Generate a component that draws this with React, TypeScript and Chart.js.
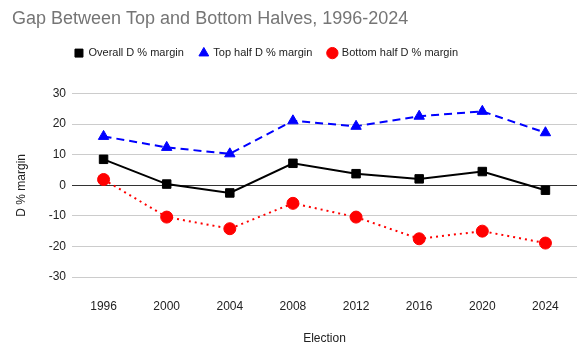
import React, { useEffect, useRef } from "react";
import { Chart, registerables } from "chart.js";

Chart.register(...registerables);

const years = ["1996", "2000", "2004", "2008", "2012", "2016", "2020", "2024"];
const overall = [8.5, 0.4, -2.5, 7.2, 3.8, 2.1, 4.5, -1.6];
const topHalf = [16.0, 12.4, 10.3, 21.1, 19.3, 22.6, 24.2, 17.2];
const bottomHalf = [1.9, -10.4, -14.2, -5.9, -10.4, -17.5, -15.0, -18.9];

const FONT = "'Liberation Sans', Arial, sans-serif";

const legendSpacer = {
  id: "legendSpacer",
  beforeInit(chart: any) {
    const lg = chart.legend;
    if (!lg) return;
    const orig = lg.fit;
    lg.fit = function () {
      orig.call(this);
      this.height += 25;
    };
  },
  afterLayout(chart: any) {
    const lg = chart.legend;
    if (lg) {
      lg.left -= 27;
      lg.right -= 27;
    }
    const tb = chart.titleBlock;
    if (tb) {
      tb.left += 2;
      tb.right += 2;
    }
  },
};

export default function App() {
  const ref = useRef<HTMLCanvasElement | null>(null);
  useEffect(() => {
    document.body.style.margin = "0";
    const ctx = ref.current!;
    const chart = new Chart(ctx, {
      type: "line",
      data: {
        labels: years,
        datasets: [
          {
            label: "Overall D % margin",
            data: overall,
            borderColor: "#000000",
            backgroundColor: "#000000",
            borderWidth: 2,
            pointStyle: "rect",
            pointRadius: 6,
            pointBorderWidth: 1,
          },
          {
            label: "Top half D % margin",
            data: topHalf,
            borderColor: "#0000ff",
            backgroundColor: "#0000ff",
            borderWidth: 2,
            borderDash: [8, 5],
            pointStyle: "triangle",
            pointRadius: 6,
            pointBorderWidth: 1,
          },
          {
            label: "Bottom half D % margin",
            data: bottomHalf,
            borderColor: "#ff0000",
            backgroundColor: "#ff0000",
            borderWidth: 2,
            borderDash: [2, 4],
            pointStyle: "circle",
            pointRadius: 6,
            pointBorderWidth: 1,
          },
        ],
      },
      plugins: [legendSpacer],
      options: {
        animation: false,
        responsive: false,
        layout: { padding: { left: 10, right: 10, top: 8, bottom: 0 } },
        plugins: {
          title: {
            display: true,
            text: "Gap Between Top and Bottom Halves, 1996-2024",
            align: "start",
            color: "#757575",
            font: { family: FONT, size: 18, weight: "normal" },
            padding: { top: 0, bottom: 2 },
          },
          legend: {
            display: true,
            labels: {
              usePointStyle: true,
              boxWidth: 8,
              boxHeight: 8,
              color: "#222222",
              font: { family: FONT, size: 11 },
              padding: 16,
            },
          },
          tooltip: { enabled: false },
        },
        scales: {
          x: {
            offset: true,
            grid: { display: false },
            border: { display: false },
            ticks: { color: "#222222", font: { family: FONT, size: 12 }, padding: 14 },
            title: {
              display: true,
              text: "Election",
              color: "#222222",
              font: { family: FONT, size: 12 },
              padding: { top: 4, bottom: 9 },
            },
            afterFit: (s: any) => {
              s.height = 78;
            },
          },
          y: {
            min: -30,
            max: 30,
            ticks: { stepSize: 10, color: "#222222", font: { family: FONT, size: 12 }, padding: 6 },
            grid: {
              color: (c: any) => (c.tick && c.tick.value === 0 ? "#333333" : "#cccccc"),
              drawTicks: false,
            },
            border: { display: false },
            title: {
              display: true,
              text: "D % margin",
              color: "#222222",
              font: { family: FONT, size: 12 },
            },
            afterFit: (s: any) => {
              s.width = 62;
            },
          },
        },
      },
    });
    return () => chart.destroy();
  }, []);
  return (
    <div style={{ position: "absolute", left: 0, top: 0, width: 587, height: 355, background: "#fff" }}>
      <canvas ref={ref} width={587} height={355} />
    </div>
  );
}
